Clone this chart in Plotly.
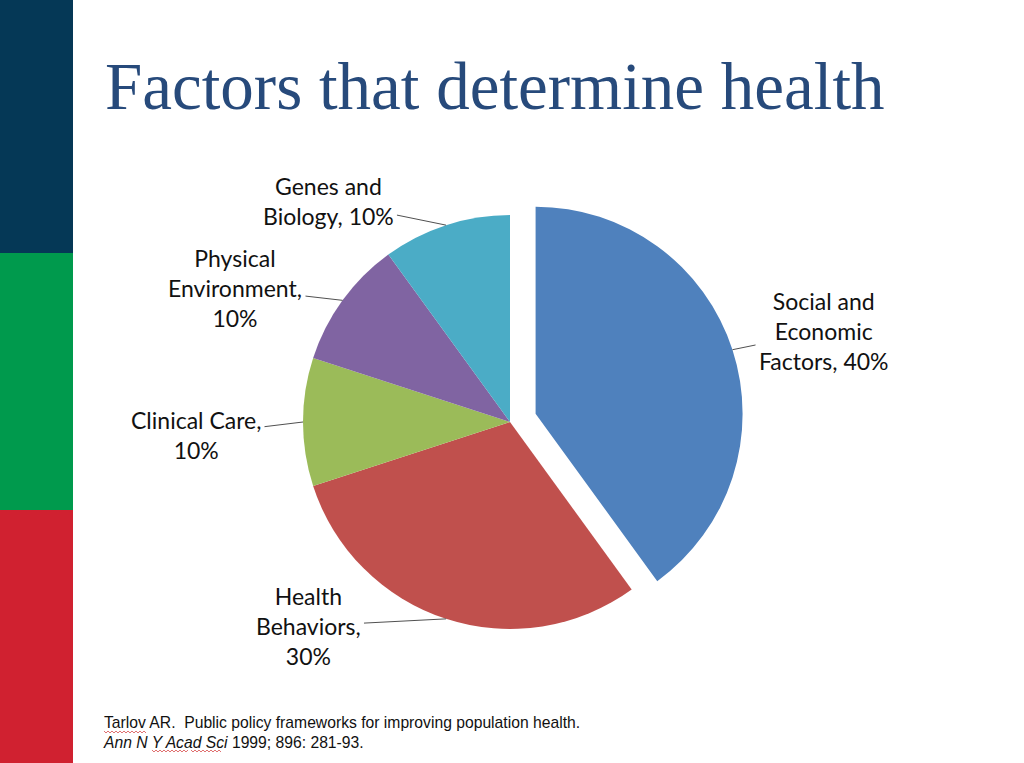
import math
import plotly.graph_objects as go

# ---- data ----
categories = ["Social and Economic Factors", "Health Behaviors", "Clinical Care",
              "Physical Environment", "Genes and Biology"]
values = [40, 30, 10, 10, 10]
label_texts = ["Social and<br>Economic<br>Factors, 40%",
               "Health<br>Behaviors,<br>30%",
               "Clinical Care,<br>10%",
               "Physical<br>Environment,<br>10%",
               "Genes and<br>Biology, 10%"]
colors = ["#4F81BD", "#C0504D", "#9BBB59", "#8064A2", "#4BACC6"]
pulls = [0.13, 0, 0, 0, 0]

# ---- layout geometry (pixels) ----
W, H = 1024, 763
CX, CY, R = 510, 422, 207
half = R * (1 + max(pulls))
dom_x = [(CX - half) / W, (CX + half) / W]
dom_y = [1 - (CY + half) / H, 1 - (CY - half) / H]

# label box centres (pixels)
label_pos = [(824, 331), (308, 626), (196, 435), (235, 288), (328, 201)]

fig = go.Figure()
fig.add_trace(go.Pie(
    labels=categories, values=values, sort=False, direction="clockwise",
    rotation=0, pull=pulls, textinfo="none", hoverinfo="none",
    marker=dict(colors=colors, line=dict(width=0)),
    domain=dict(x=dom_x, y=dom_y), showlegend=False,
))

# leader-line anchors on slice mid-angles
annotations = []
total = sum(values)
cum = 0
for v, txt, p, (lx, ly) in zip(values, label_texts, pulls, label_pos):
    mid = (cum + v / 2) / total * 2 * math.pi
    cum += v
    dx, dy = math.sin(mid), -math.cos(mid)
    ox, oy = CX + dx * p * R, CY + dy * p * R
    hx, hy = ox + dx * R, oy + dy * R
    annotations.append(dict(
        x=hx / W, y=1 - hy / H, xref="paper", yref="paper",
        text=txt, showarrow=True, arrowhead=0, arrowwidth=1, arrowcolor="#505050",
        ax=lx - hx, ay=ly - hy, standoff=0, startstandoff=2,
        font=dict(family="Lato, Carlito, sans-serif", size=23, color="#111111"),
        align="center",
    ))

# title
annotations.append(dict(
    x=103 / W, y=1 - 86 / H, xref="paper", yref="paper", xanchor="left", yanchor="middle",
    text="Factors that determine health", showarrow=False,
    font=dict(family="Liberation Serif, Times New Roman, serif", size=67, color="#274A7B"),
))
# footnote
annotations.append(dict(
    x=101 / W, y=1 - 712 / H, xref="paper", yref="paper", xanchor="left", yanchor="top",
    text="Tarlov AR.\u00a0 Public policy frameworks for improving population health.<br>"
         "<i>Ann N Y Acad Sci</i> 1999; 896: 281-93.",
    showarrow=False, align="left",
    font=dict(family="Liberation Sans, Arial, sans-serif", size=15.7, color="#111111"),
))

shapes = [
    dict(type="rect", xref="paper", yref="paper", x0=0, x1=73 / W, y0=1 - 253 / H, y1=1,
         fillcolor="#053856", line=dict(width=0), layer="below"),
    dict(type="rect", xref="paper", yref="paper", x0=0, x1=73 / W, y0=1 - 510 / H, y1=1 - 253 / H,
         fillcolor="#009A4D", line=dict(width=0), layer="below"),
    dict(type="rect", xref="paper", yref="paper", x0=0, x1=73 / W, y0=0, y1=1 - 510 / H,
         fillcolor="#D02130", line=dict(width=0), layer="below"),
]


# spell-check style wavy underlines in the citation
def wavy(x0, x1, y):
    pts = []
    x, up = x0, True
    while x <= x1:
        pts.append((x / W, 1 - (y - 1 if up else y + 1) / H))
        x += 2
        up = not up
    d = "M " + " L ".join(f"{a:.5f},{b:.5f}" for a, b in pts)
    return dict(type="path", xref="paper", yref="paper", path=d,
                line=dict(color="#E07070", width=1))


for (a, b, y) in [(104, 146, 732), (152, 188, 751), (191, 221, 751)]:
    shapes.append(wavy(a, b, y))

fig.update_layout(
    width=W, height=H, margin=dict(l=0, r=0, t=0, b=0),
    paper_bgcolor="white", plot_bgcolor="white",
    annotations=annotations, shapes=shapes,
)
fig.write_html("out.html", config={"displayModeBar": False},
               post_script="document.body.style.margin='0';document.body.style.overflow='hidden';")
